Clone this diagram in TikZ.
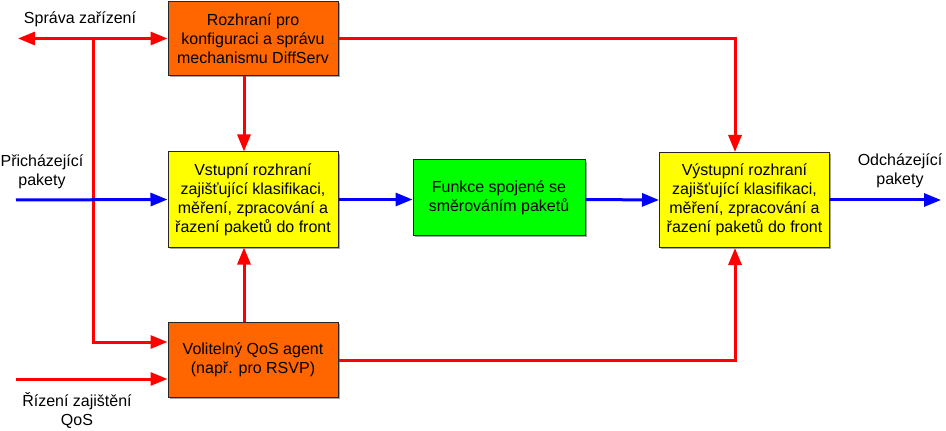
\documentclass[tikz,border=0pt]{standalone}
\usepackage{fontspec}
\setmainfont{Liberation Sans}
\usetikzlibrary{arrows.meta,calc,positioning,shadows}
\definecolor{boxorange}{HTML}{FF6600}
\definecolor{boxyellow}{HTML}{FFFF00}
\definecolor{boxgreen}{HTML}{00FF00}
\definecolor{linered}{HTML}{FF0000}
\definecolor{lineblue}{HTML}{0000FF}
\tikzset{
	-{Triangle[length=12.75pt,width=9.75pt]},
}

\begin{document}
\begin{tikzpicture}[
	x=0.75pt, y=-0.75pt,
	font=\fontsize{12pt}{14.25pt}\selectfont,
	box/.style={draw=black!85, line width=0.75pt, align=center, inner sep=0pt, minimum width=127.5pt, drop shadow={shadow xshift=1.2pt, shadow yshift=-1.2pt, fill=black, opacity=0.35}},
	boxo/.style={box, fill=boxorange, minimum height=56pt},
	boxy/.style={box, fill=boxyellow, minimum height=71.25pt},
	boxg/.style={box, fill=boxgreen, minimum width=129pt, minimum height=56.25pt},
	lbl/.style={align=center, inner sep=0pt},
	redl/.style={draw=linered, line width=2.25pt},
	bluel/.style={draw=lineblue, line width=2.25pt},
	]
	\useasboundingbox (0,0) rectangle (946,431);

	%boxes
	\node[boxo] (cfg) at (253,38.5) {Rozhraní pro\\konfiguraci a správu\\mechanismu DiffServ};
	\node[boxy] (in) at (253,199.5) {Vstupní rozhraní\\zajišťující klasifikaci,\\měření, zpracování a\\řazení paketů do front};
	\node[boxg] (fwd) at (499,197.5) {Funkce spojené se\\směrováním paketů};
	\node[boxy] (out) at (744.5,200) {Výstupní rozhraní\\zajišťující klasifikaci,\\měření, zpracování a\\řazení paketů do front};
	\node[boxo] (agent) at (253,360) {Volitelný QoS agent\\(např. pro RSVP)};

	%labels
	\node[lbl] (mgmtl) at (80,19) {Správa zařízení};
	\node[lbl] (inl) at (42,172) {Přicházející\\pakety};
	\node[lbl] (outl) at (900,171) {Odcházející\\pakety};
	\node[lbl] (qosl) at (77,411) {Řízení zajištění\\QoS};

	%free ends
	\coordinate (mgmt) at (18,38.5);
	\coordinate (split) at (93,38.5);
	\coordinate (pin) at (16,200);
	\coordinate (pout) at (941,200);
	\coordinate (qos) at (16,379);

	%red paths
	\path (split) edge[redl] (mgmt);
	\path (split) edge[redl] (cfg.west);
	\draw[redl] (split) |- ($(agent.west)+(0,-18)$);
	\path (qos) edge[redl] ($(agent.west)+(0,19)$);
	\path ($(cfg.south)+(-9,0)$) edge[redl] ($(in.north)+(-9,0)$);
	\path ($(agent.north)+(-9,0)$) edge[redl] ($(in.south)+(-9,0)$);
	\draw[redl] (cfg.east) -| ($(out.north)+(-9.5,0)$);
	\draw[redl] (agent.east) -| ($(out.south)+(-9.5,0)$);

	%blue paths
	\path (pin) edge[bluel] (in.west);
	\path (in.east) edge[bluel] (fwd.west |- in.east);
	\path (fwd.east |- in.east) edge[bluel] (out.west);
	\path (out.east) edge[bluel] (pout);

\end{tikzpicture}
\end{document}
